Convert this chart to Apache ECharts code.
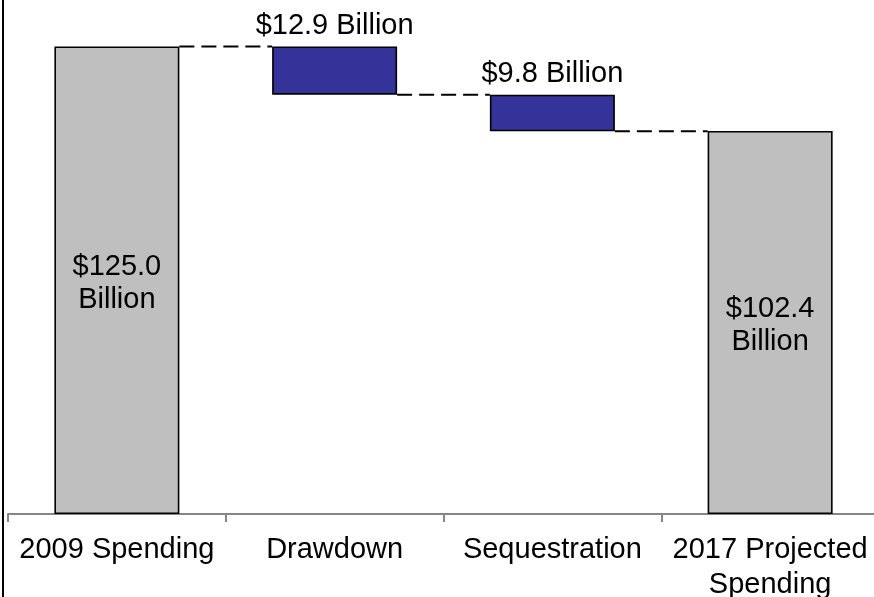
<!DOCTYPE html>
<html>
<head>
<meta charset="utf-8">
<title>Spending Waterfall</title>
<script src="https://cdn.jsdelivr.net/npm/echarts@6/dist/echarts.min.js"></script>
<style>
  html, body { margin: 0; padding: 0; background: #fff; }
  #chart { width: 874px; height: 597px; }
</style>
</head>
<body>
<div id="chart"></div>
<script>
// Waterfall steps, in billions of dollars
const categories = ['2009 Spending', 'Drawdown', 'Sequestration', '2017 Projected\nSpending'];
const stepKinds = ['total', 'change', 'change', 'total'];
const stepValues = [125.0, -12.9, -9.8, 102.4];
const stepLabels = ['$125.0\nBillion', '$12.9 Billion', '$9.8 Billion', '$102.4\nBillion'];

// Work out the floating base and visible height of each step
const bases = [];
const heights = [];
const levelsAfter = [];
let running = 0;
stepValues.forEach(function (v, i) {
  if (stepKinds[i] === 'total') {
    bases.push(0);
    heights.push(v);
    running = v;
  } else {
    const next = running + v;
    bases.push(Math.min(running, next));
    heights.push(Math.abs(v));
    running = next;
  }
  levelsAfter.push(+running.toFixed(1));
});

const FONT = '"Liberation Sans", Arial, sans-serif';
const BAR_PX = 125;

const barData = heights.map(function (h, i) {
  const isTotal = stepKinds[i] === 'total';
  return {
    value: h,
    itemStyle: { color: isTotal ? '#BFBFBF' : '#333399' },
    label: isTotal
      ? { show: true, position: 'inside', formatter: stepLabels[i], lineHeight: 33, offset: [0, 3] }
      : { show: true, position: 'top', distance: 6, formatter: stepLabels[i] }
  };
});

// Connector from each step's end level to the next bar
const connectorData = levelsAfter.slice(0, -1).map(function (lvl, i) { return [i, lvl]; });

const chart = echarts.init(document.getElementById('chart'), null, { renderer: 'canvas' });
chart.setOption({
  animation: false,
  backgroundColor: '#ffffff',
  grid: {
    left: 8, width: 871, top: 0, height: 514,
    containLabel: false,
    outerBoundsMode: 'none'
  },
  xAxis: {
    type: 'category',
    data: categories,
    axisLine: { lineStyle: { color: '#868686', width: 2 } },
    axisTick: { show: true, length: 8, lineStyle: { color: '#868686', width: 2 } },
    axisLabel: {
      interval: 0,
      margin: 18,
      color: '#000',
      fontFamily: FONT,
      fontSize: 29,
      lineHeight: 35
    }
  },
  yAxis: { type: 'value', min: 0, max: 137.4, show: false },
  series: [
    {
      type: 'bar',
      stack: 'wf',
      barWidth: BAR_PX,
      itemStyle: { color: 'transparent' },
      data: bases,
      silent: true
    },
    {
      type: 'bar',
      stack: 'wf',
      barWidth: BAR_PX,
      itemStyle: { borderColor: '#000', borderWidth: 1.6 },
      label: { color: '#000', fontFamily: FONT, fontSize: 29 },
      data: barData
    },
    {
      type: 'custom',
      data: connectorData,
      z: 1,
      renderItem: function (params, api) {
        const p = api.coord([api.value(0), api.value(1)]);
        const band = api.size([1, 0])[0];
        const half = BAR_PX / 2;
        return {
          type: 'line',
          shape: { x1: p[0] + half, y1: p[1], x2: p[0] + band - half, y2: p[1] },
          style: { stroke: '#000', lineWidth: 2, lineDash: [15, 7] }
        };
      }
    }
  ],
  graphic: [
    {
      type: 'line',
      shape: { x1: 3, y1: 0, x2: 3, y2: 597 },
      style: { stroke: '#000', lineWidth: 2 }
    }
  ]
});
</script>
</body>
</html>
